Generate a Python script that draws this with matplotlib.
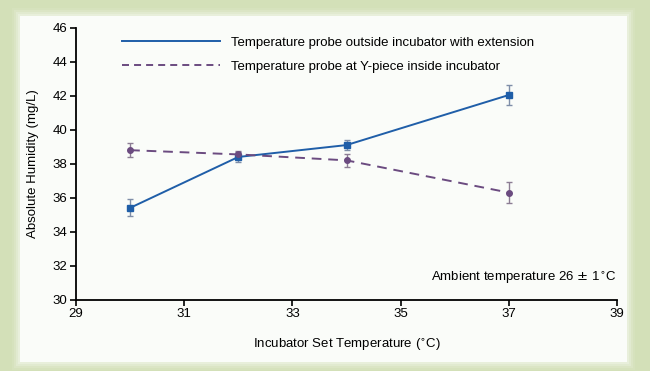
import matplotlib
matplotlib.use("Agg")
import matplotlib.pyplot as plt
from matplotlib.patches import Rectangle
from matplotlib.lines import Line2D

plt.rcParams['font.family'] = ['Liberation Sans', 'DejaVu Sans']

# incubator set temperature (deg C)
set_temp = [30, 32, 34, 37]

# probe outside incubator with extension
outside_mean = [35.4, 38.4, 39.1, 42.05]
outside_err = [0.5, 0.3, 0.3, 0.6]

# probe at Y-piece inside incubator
ypiece_mean = [38.8, 38.55, 38.2, 36.3]
ypiece_err = [0.4, 0.2, 0.4, 0.6]

xticks = [29, 31, 33, 35, 37, 39]
yticks = [30, 32, 34, 36, 38, 40, 42, 44, 46]

blue = '#1f5ea8'
purple = '#6b4b80'
fs = 9.5

fig = plt.figure(figsize=(6.5, 3.71), dpi=100)
fig.patch.set_facecolor('#d3e0b8')

# soft shadow + white panel
for i, a in enumerate([0.10, 0.18, 0.28, 0.40]):
    pad = (4 - i) * 2.0
    fig.patches.append(Rectangle(((20 - pad) / 650, 1 - (362 + pad) / 371),
                                 (607 + 2 * pad) / 650, (346 + 2 * pad) / 371,
                                 transform=fig.transFigure, facecolor='#f4f8ee',
                                 alpha=a, edgecolor='none', zorder=-10))
fig.patches.append(Rectangle((20 / 650, 1 - 362 / 371), 607 / 650, 346 / 371,
                             transform=fig.transFigure, facecolor='#fafcf9',
                             edgecolor='none', zorder=-9))

ax = fig.add_axes([76 / 650, 1 - 299.5 / 371, (617 - 76) / 650, (299.5 - 28) / 371])
ax.set_facecolor('none')

ax.errorbar(set_temp, outside_mean, yerr=outside_err, color=blue, lw=1.4,
            marker='s', ms=4, ecolor='#7f8ea8', elinewidth=1.0, capsize=2.5,
            capthick=1.0, label='Temperature probe outside incubator with extension')
ax.errorbar(set_temp, ypiece_mean, yerr=ypiece_err, color=purple, lw=1.4,
            ls=(0, (5, 3.5)), marker='o', ms=4, ecolor='#8c7d94', elinewidth=1.0,
            capsize=2.5, capthick=1.0,
            label='Temperature probe at Y-piece inside incubator')

ax.set_xlim(29, 39)
ax.set_ylim(30, 46)
ax.set_xticks(xticks)
ax.set_yticks(yticks)
ax.spines['top'].set_visible(False)
ax.spines['right'].set_visible(False)
for s in ['left', 'bottom']:
    ax.spines[s].set_linewidth(1.3)
ax.tick_params(direction='out', length=4, width=1.2, labelsize=fs, pad=2)

ax.set_xlabel('Incubator Set Temperature ($^{\\circ}$C)', fontsize=fs, labelpad=12)
ax.set_ylabel('Absolute Humidity (mg/L)', fontsize=fs, labelpad=10)

# legend handles without markers/error bars
h, l = ax.get_legend_handles_labels()
handles = [Line2D([], [], color=blue, lw=1.4),
           Line2D([], [], color=purple, lw=1.4, ls=(0, (3.6, 2.6)))]
ax.legend(handles, l, loc='upper left', bbox_to_anchor=(0.063, 1.013),
          frameon=False, fontsize=fs, handlelength=7.4, handletextpad=0.9,
          labelspacing=0.9)

ax.text(0.9985, 0.078, 'Ambient temperature 26 $\\pm$ 1$^{\\circ}$C',
        transform=ax.transAxes, ha='right', va='center', fontsize=fs)

fig.savefig('out.png', dpi=100, facecolor=fig.get_facecolor())
